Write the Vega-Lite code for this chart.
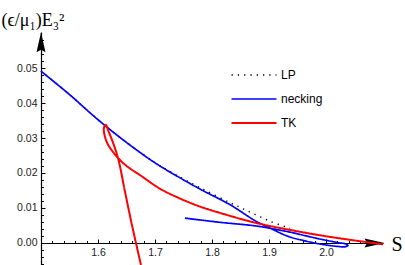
{
  "$schema": "https://vega.github.io/schema/vega-lite/v6.json",
  "width": 342,
  "height": 233,
  "autosize": {"type": "none"},
  "padding": {"left": 41, "top": 32, "right": 22, "bottom": 0},
  "background": "white",
  "config": {"view": {"stroke": null}},
  "datasets": {
    "curves": [
      {"series": "LP", "order": 1, "S": 1.5, "E": 0.0491},
      {"series": "LP", "order": 2, "S": 1.5509, "E": 0.0423},
      {"series": "LP", "order": 3, "S": 1.586, "E": 0.0372},
      {"series": "LP", "order": 4, "S": 1.6158, "E": 0.0331},
      {"series": "LP", "order": 5, "S": 1.656, "E": 0.028},
      {"series": "LP", "order": 6, "S": 1.7, "E": 0.023},
      {"series": "LP", "order": 7, "S": 1.735, "E": 0.0196},
      {"series": "LP", "order": 8, "S": 1.779, "E": 0.0158},
      {"series": "LP", "order": 9, "S": 1.832, "E": 0.0115},
      {"series": "LP", "order": 10, "S": 1.867, "E": 0.0088},
      {"series": "LP", "order": 11, "S": 1.902, "E": 0.0062},
      {"series": "LP", "order": 12, "S": 1.937, "E": 0.0042},
      {"series": "necking", "order": 1, "S": 1.5, "E": 0.0491},
      {"series": "necking", "order": 2, "S": 1.5509, "E": 0.0423},
      {"series": "necking", "order": 3, "S": 1.586, "E": 0.0372},
      {"series": "necking", "order": 4, "S": 1.6158, "E": 0.0331},
      {"series": "necking", "order": 5, "S": 1.656, "E": 0.028},
      {"series": "necking", "order": 6, "S": 1.7, "E": 0.0229},
      {"series": "necking", "order": 7, "S": 1.744, "E": 0.0186},
      {"series": "necking", "order": 8, "S": 1.779, "E": 0.0154},
      {"series": "necking", "order": 9, "S": 1.832, "E": 0.0109},
      {"series": "necking", "order": 10, "S": 1.8754, "E": 0.0064},
      {"series": "necking", "order": 11, "S": 1.905, "E": 0.004},
      {"series": "necking", "order": 12, "S": 1.9333, "E": 0.0019},
      {"series": "necking", "order": 13, "S": 1.963, "E": 0.0006},
      {"series": "necking", "order": 14, "S": 1.993, "E": -0.0004},
      {"series": "necking", "order": 15, "S": 2.021, "E": -0.001},
      {"series": "necking", "order": 16, "S": 2.033, "E": -0.0011},
      {"series": "necking", "order": 17, "S": 2.0386, "E": -0.0007},
      {"series": "necking", "order": 18, "S": 2.035, "E": -0.0003},
      {"series": "necking", "order": 19, "S": 2.021, "E": 0.0001},
      {"series": "necking", "order": 20, "S": 1.993, "E": 0.001},
      {"series": "necking", "order": 21, "S": 1.963, "E": 0.0021},
      {"series": "necking", "order": 22, "S": 1.9368, "E": 0.0031},
      {"series": "necking", "order": 23, "S": 1.905, "E": 0.0041},
      {"series": "necking", "order": 24, "S": 1.8754, "E": 0.0049},
      {"series": "necking", "order": 25, "S": 1.814, "E": 0.0059},
      {"series": "necking", "order": 26, "S": 1.7526, "E": 0.0071},
      {"series": "TK", "order": 1, "S": 1.6754, "E": -0.0063},
      {"series": "TK", "order": 2, "S": 1.6596, "E": 0.0051},
      {"series": "TK", "order": 3, "S": 1.6474, "E": 0.0146},
      {"series": "TK", "order": 4, "S": 1.6351, "E": 0.0243},
      {"series": "TK", "order": 5, "S": 1.6246, "E": 0.0294},
      {"series": "TK", "order": 6, "S": 1.6175, "E": 0.0323},
      {"series": "TK", "order": 7, "S": 1.614, "E": 0.0337},
      {"series": "TK", "order": 8, "S": 1.6105, "E": 0.0329},
      {"series": "TK", "order": 9, "S": 1.612, "E": 0.0305},
      {"series": "TK", "order": 10, "S": 1.618, "E": 0.028},
      {"series": "TK", "order": 11, "S": 1.6351, "E": 0.0243},
      {"series": "TK", "order": 12, "S": 1.6526, "E": 0.0217},
      {"series": "TK", "order": 13, "S": 1.6737, "E": 0.0194},
      {"series": "TK", "order": 14, "S": 1.7088, "E": 0.0155},
      {"series": "TK", "order": 15, "S": 1.7439, "E": 0.0127},
      {"series": "TK", "order": 16, "S": 1.779, "E": 0.0104},
      {"series": "TK", "order": 17, "S": 1.8263, "E": 0.008},
      {"series": "TK", "order": 18, "S": 1.8754, "E": 0.0058},
      {"series": "TK", "order": 19, "S": 1.928, "E": 0.004},
      {"series": "TK", "order": 20, "S": 1.9895, "E": 0.0022},
      {"series": "TK", "order": 21, "S": 2.0421, "E": 0.0009},
      {"series": "TK", "order": 22, "S": 2.1, "E": -0.0004}
    ],
    "yArrow": [{"S": 1.5, "E": 0.0574}],
    "xArrow": [{"S": 2.0851, "E": 0}]
  },
  "resolve": {"axis": {"x": "independent", "y": "independent"}},
  "layer": [
    {
      "data": {"name": "yArrow"},
      "mark": {"type": "point", "opacity": 0},
      "encoding": {
        "x": {"field": "S", "type": "quantitative", "scale": {"domain": [1.5, 2.1], "nice": false, "zero": false},
          "axis": {"orient": "top", "offset": -211, "values": [1.52,1.54,1.56,1.58,1.62,1.64,1.66,1.68,1.72,1.74,1.76,1.78,1.82,1.84,1.86,1.88,1.92,1.94,1.96,1.98,2.02,2.04,2.06,2.08],
            "labels": false, "domain": false, "grid": false, "title": null, "tickSize": 2.5, "tickColor": "black", "tickWidth": 1}},
        "y": {"field": "E", "type": "quantitative", "scale": {"domain": [-0.0063, 0.0603], "nice": false, "zero": false},
          "axis": {"orient": "right", "offset": -342, "values": [-0.006,-0.004,-0.002,0.002,0.004,0.006,0.008,0.012,0.014,0.016,0.018,0.022,0.024,0.026,0.028,0.032,0.034,0.036,0.038,0.042,0.044,0.046,0.048,0.052,0.054,0.056,0.058],
            "labels": false, "domain": false, "grid": false, "title": null, "tickSize": 2.5, "tickColor": "black", "tickWidth": 1}}
      }
    },
    {
      "data": {"name": "xArrow"},
      "mark": {"type": "point", "opacity": 0},
      "encoding": {
        "x": {"field": "S", "type": "quantitative",
          "axis": {"orient": "top", "offset": -211, "values": [1.6, 1.7, 1.8, 1.9, 2.0],
            "labels": false, "domain": false, "grid": false, "title": null, "tickSize": 4, "tickColor": "black", "tickWidth": 1}},
        "y": {"field": "E", "type": "quantitative",
          "axis": {"orient": "right", "offset": -342, "values": [0, 0.01, 0.02, 0.03, 0.04, 0.05],
            "labels": false, "domain": false, "grid": false, "title": null, "tickSize": 4, "tickColor": "black", "tickWidth": 1}}
      }
    },
    {
      "data": {"name": "yArrow"},
      "mark": {"type": "point", "shape": "M0,-1L0.45,1L0,0.75L-0.45,1Z", "filled": true, "color": "black", "opacity": 1, "size": 400, "strokeWidth": 0},
      "encoding": {
        "x": {"field": "S", "type": "quantitative", "axis": null},
        "y": {"field": "E", "type": "quantitative", "axis": null}
      }
    },
    {
      "data": {"name": "xArrow"},
      "mark": {"type": "point", "shape": "M1,0L-1,-0.45L-0.75,0L-1,0.45Z", "filled": true, "color": "black", "opacity": 1, "size": 400, "strokeWidth": 0},
      "encoding": {
        "x": {"field": "S", "type": "quantitative", "axis": null},
        "y": {"field": "E", "type": "quantitative", "axis": null}
      }
    },
    {
      "data": {"name": "curves"},
      "mark": {"type": "line", "interpolate": "catmull-rom"},
      "encoding": {
        "x": {
          "field": "S", "type": "quantitative",
          "axis": {
            "orient": "bottom",
            "title": "S", "titleFont": "Liberation Serif", "titleFontSize": 20, "titleFontWeight": "normal", "titleColor": "black",
            "titleAngle": 0, "titleAlign": "left", "titleBaseline": "middle", "titleX": 350, "titleY": 1,
            "offset": -22,
            "values": [1.6, 1.7, 1.8, 1.9, 2.0], "format": ".1f",
            "labelFont": "Liberation Sans", "labelFontSize": 10.5, "labelColor": "#222", "labelPadding": 4,
            "labelFlush": false, "labelOverlap": false,
            "ticks": false, "domainColor": "black", "domainWidth": 1.2, "grid": false
          }
        },
        "y": {
          "field": "E", "type": "quantitative",
          "axis": {
            "orient": "left",
            "title": "(ϵ/μ₁)E₃²", "titleFont": "Liberation Serif", "titleFontSize": 18, "titleFontWeight": "normal", "titleColor": "black",
            "titleAngle": 0, "titleAlign": "left", "titleBaseline": "alphabetic", "titleX": -40, "titleY": -7,
            "values": [0, 0.01, 0.02, 0.03, 0.04, 0.05], "format": ".2f",
            "labelFont": "Liberation Sans", "labelFontSize": 10.5, "labelColor": "#222", "labelPadding": 4,
            "labelFlush": false, "labelOverlap": false,
            "ticks": false, "domainColor": "black", "domainWidth": 1.2, "grid": false
          }
        },
        "order": {"field": "order", "type": "quantitative"},
        "color": {
          "field": "series", "type": "nominal",
          "scale": {"domain": ["LP", "necking", "TK"], "range": ["#000000", "#0000ff", "#ff0000"]},
          "legend": {
            "title": null, "orient": "none", "legendX": 197, "legendY": 27,
            "symbolType": "M-1.5,0H1.5", "symbolSize": 900, "symbolFillColor": "transparent", "rowPadding": 2,
            "labelFont": "Liberation Sans", "labelFontSize": 12, "labelColor": "black", "labelOffset": 11
          }
        },
        "strokeDash": {
          "field": "series", "type": "nominal",
          "scale": {"domain": ["LP", "necking", "TK"], "range": [[1.3, 5], [1, 0], [1, 0]]},
          "legend": {
            "title": null, "orient": "none", "legendX": 197, "legendY": 27,
            "symbolType": "M-1.5,0H1.5", "symbolSize": 900, "symbolFillColor": "transparent", "rowPadding": 2,
            "labelFont": "Liberation Sans", "labelFontSize": 12, "labelColor": "black", "labelOffset": 11
          }
        },
        "strokeWidth": {
          "field": "series", "type": "nominal",
          "scale": {"domain": ["LP", "necking", "TK"], "range": [1.4, 2, 2]},
          "legend": {
            "title": null, "orient": "none", "legendX": 197, "legendY": 27,
            "symbolType": "M-1.5,0H1.5", "symbolSize": 900, "symbolFillColor": "transparent", "rowPadding": 2,
            "labelFont": "Liberation Sans", "labelFontSize": 12, "labelColor": "black", "labelOffset": 11
          }
        }
      }
    }
  ]
}
